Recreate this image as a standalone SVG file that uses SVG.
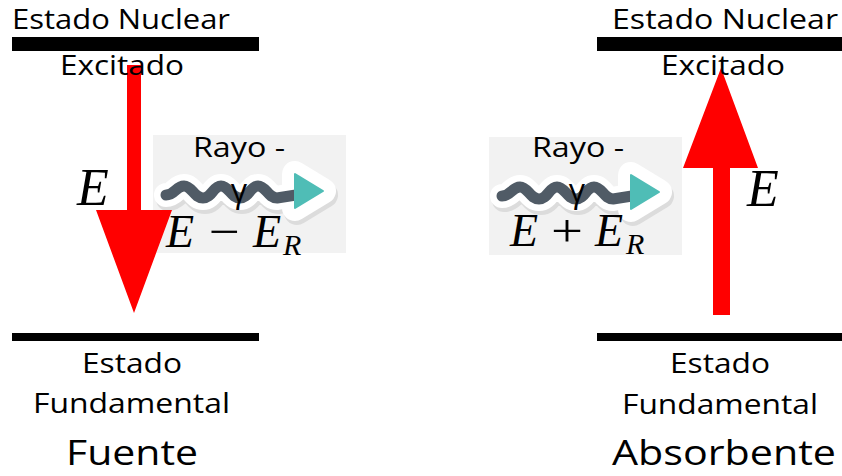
<svg xmlns="http://www.w3.org/2000/svg" width="842" height="476" viewBox="0 0 842 476">
  <defs>
    <style>
      .lbl { font-family: "Open Sans", "Noto Sans", "Liberation Sans", sans-serif; fill: #000; text-anchor: middle; }
      .m { font-family: "Liberation Serif", "DejaVu Serif", serif; fill: #000; }
      .mi { font-style: italic; }
      .bar { fill: #000; }
      .box { fill: #f2f2f2; }
      .arrow { fill: #ff0000; }
    </style>
    <g id="photon">
      <g transform="translate(2,4)" fill="none" stroke="#dcdcdc" stroke-linecap="round" stroke-linejoin="round">
        <path d="M166,195 C175,195 176,186 184,186 S194,198 203,198 S213,186 221,186 S231,198 240,198 S250,186 258,186 S268,198 277,198 L292,195" stroke-width="24"/>
        <polygon points="295,174 295,208 323,191" stroke-width="26" fill="#dcdcdc"/>
      </g>
      <g fill="none" stroke="#ffffff" stroke-linecap="round" stroke-linejoin="round">
        <path d="M166,195 C175,195 176,186 184,186 S194,198 203,198 S213,186 221,186 S231,198 240,198 S250,186 258,186 S268,198 277,198 L292,195" stroke-width="24"/>
        <polygon points="295,174 295,208 323,191" stroke-width="26" fill="#ffffff"/>
      </g>
      <path d="M166,195 C175,195 176,186 184,186 S194,198 203,198 S213,186 221,186 S231,198 240,198 S250,186 258,186 S268,198 277,198 L296,195" fill="none" stroke="#505b66" stroke-width="11" stroke-linecap="round" stroke-linejoin="round"/>
      <polygon points="295,174 295,208 323,191" fill="#4fbdb6" stroke="#4fbdb6" stroke-width="2" stroke-linejoin="round"/>
    </g>
  </defs>

  <rect width="842" height="476" fill="#ffffff"/>

  <!-- Photon boxes -->
  <g id="photon-emitted">
    <rect class="box" x="153" y="135" width="193" height="118"/>
    <use href="#photon"/>
    <text class="lbl" x="239" y="157" font-size="27" textLength="92" lengthAdjust="spacingAndGlyphs">Rayo -</text>
    <text class="lbl" x="239" y="202" font-size="32">γ</text>
    <text class="m mi" x="166" y="247" font-size="46">E</text>
    <text class="m" x="209" y="247" font-size="46" textLength="31" lengthAdjust="spacingAndGlyphs">−</text>
    <text class="m mi" x="253" y="247" font-size="46">E</text>
    <text class="m mi" x="283" y="255" font-size="30">R</text>
  </g>
  <g id="photon-absorbed">
    <rect class="box" x="489" y="137" width="193" height="118"/>
    <use href="#photon" transform="translate(336,1)"/>
    <text class="lbl" x="578" y="157" font-size="27" textLength="92" lengthAdjust="spacingAndGlyphs">Rayo -</text>
    <text class="lbl" x="577" y="202" font-size="32">γ</text>
    <text class="m mi" x="510" y="246" font-size="46">E</text>
    <text class="m" x="551" y="246" font-size="46" textLength="32" lengthAdjust="spacingAndGlyphs">+</text>
    <text class="m mi" x="595" y="246" font-size="46">E</text>
    <text class="m mi" x="626" y="254" font-size="30">R</text>
  </g>

  <!-- Connectors (transitions) -->
  <g id="connectors">
    <polygon class="arrow" points="127,65 141,65 141,210 172,210 134,313 96,210 127,210"/>
    <polygon class="arrow" points="713,315 730,315 730,168 758,168 721,68 683,168 713,168"/>
  </g>

  <!-- Source levels -->
  <g id="fuente-excitado">
    <rect class="bar" x="12" y="37" width="247" height="14"/>
    <text class="lbl" x="121" y="29" font-size="27" textLength="218" lengthAdjust="spacingAndGlyphs">Estado Nuclear</text>
    <text class="lbl" x="122" y="75" font-size="27" textLength="124" lengthAdjust="spacingAndGlyphs">Excitado</text>
  </g>
  <g id="fuente-energia">
    <text class="m mi" x="77" y="205" font-size="52">E</text>
  </g>
  <g id="fuente-fundamental">
    <rect class="bar" x="12" y="333" width="247" height="8"/>
    <text class="lbl" x="132" y="373" font-size="27" textLength="100" lengthAdjust="spacingAndGlyphs">Estado</text>
    <text class="lbl" x="131.5" y="413" font-size="27" textLength="197" lengthAdjust="spacingAndGlyphs">Fundamental</text>
    <text class="lbl" x="132" y="465" font-size="35" textLength="132" lengthAdjust="spacingAndGlyphs">Fuente</text>
  </g>

  <!-- Absorber levels -->
  <g id="absorbente-excitado">
    <rect class="bar" x="597" y="37" width="245" height="14"/>
    <text class="lbl" x="725" y="29" font-size="27" textLength="226" lengthAdjust="spacingAndGlyphs">Estado Nuclear</text>
    <text class="lbl" x="723" y="75" font-size="27" textLength="124" lengthAdjust="spacingAndGlyphs">Excitado</text>
  </g>
  <g id="absorbente-energia">
    <text class="m mi" x="747" y="206" font-size="52">E</text>
  </g>
  <g id="absorbente-fundamental">
    <rect class="bar" x="597" y="333" width="245" height="8"/>
    <text class="lbl" x="720" y="373" font-size="27" textLength="100" lengthAdjust="spacingAndGlyphs">Estado</text>
    <text class="lbl" x="720" y="414" font-size="27" textLength="196" lengthAdjust="spacingAndGlyphs">Fundamental</text>
    <text class="lbl" x="724" y="465" font-size="35" textLength="224" lengthAdjust="spacingAndGlyphs">Absorbente</text>
  </g>
</svg>
